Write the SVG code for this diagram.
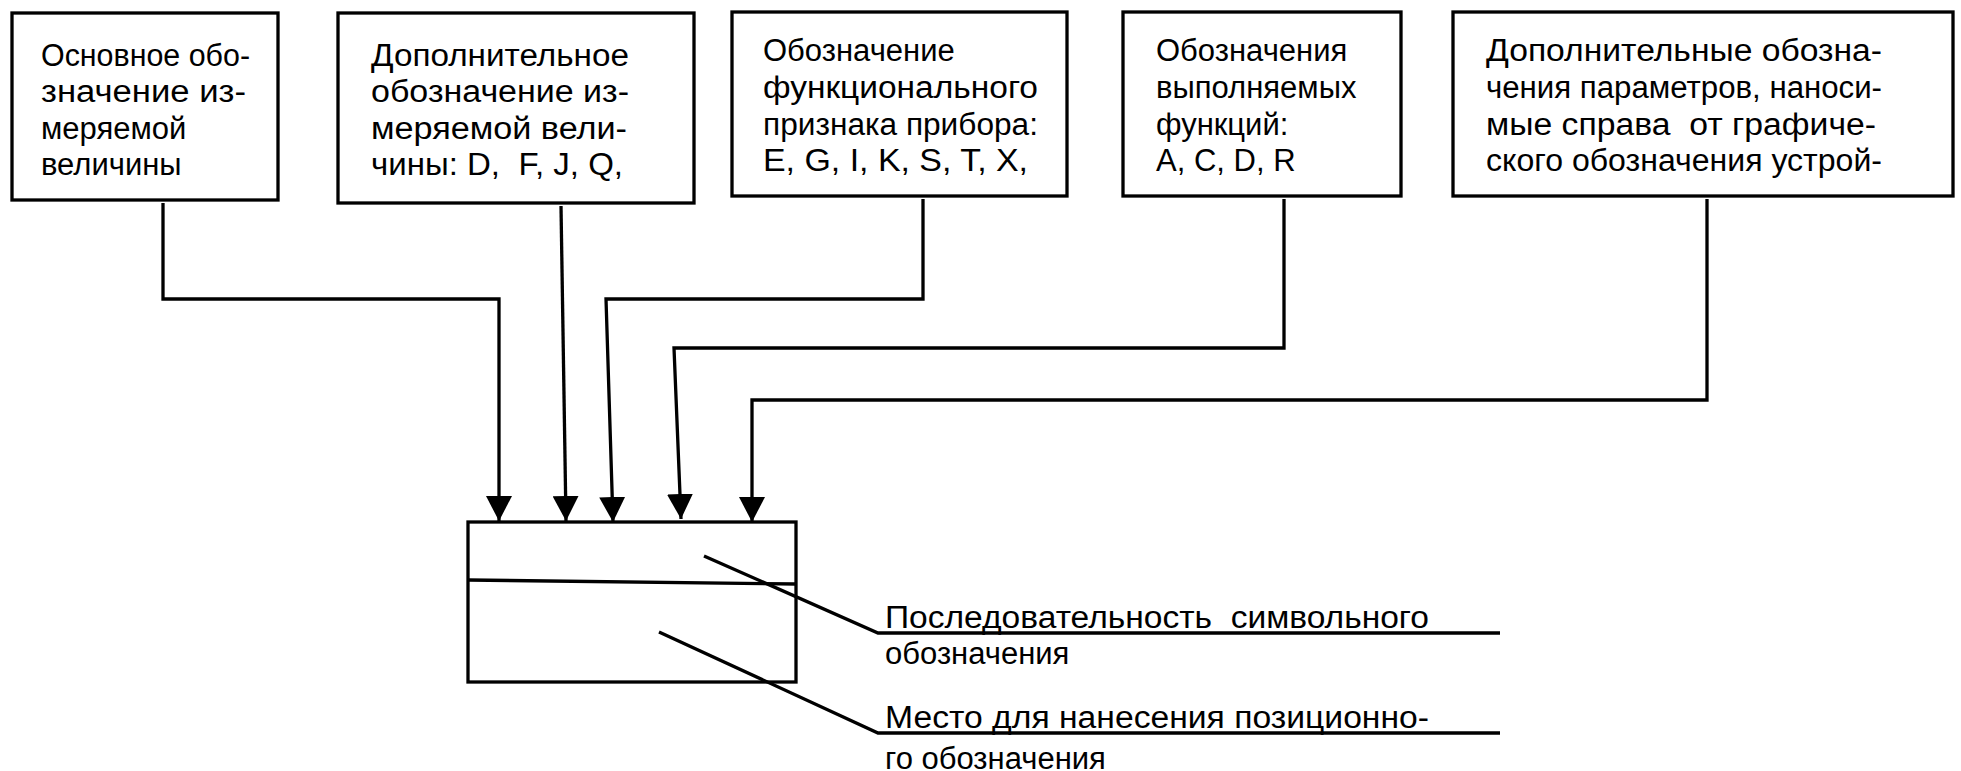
<svg xmlns="http://www.w3.org/2000/svg" width="1961" height="771" viewBox="0 0 1961 771">
<style>
.box{fill:#fff;stroke:#000;stroke-width:3.3}
.ln{fill:none;stroke:#000;stroke-width:3.3;stroke-linejoin:miter}
text{font-family:"Liberation Sans",Arial,sans-serif;font-size:31px;fill:#000}
</style>
<defs>
<marker id="arr" viewBox="0 -13 25 26" refX="25" refY="0" markerWidth="25" markerHeight="26" markerUnits="userSpaceOnUse" orient="auto">
<path d="M0,-13 L25,0 L0,13 z" fill="#000"/>
</marker>
</defs>
<rect width="1961" height="771" fill="#fff"/>
<g id="n1">
<rect class="box" x="12" y="13" width="266" height="187"/>
<text x="41" y="66" textLength="209" lengthAdjust="spacingAndGlyphs">Основное обо-</text>
<text x="41" y="102" textLength="205" lengthAdjust="spacingAndGlyphs">значение из-</text>
<text x="41" y="139">меряемой</text>
<text x="41" y="175">величины</text>
</g>
<g id="n2">
<rect class="box" x="338" y="13" width="356" height="190"/>
<text x="371" y="66" textLength="258" lengthAdjust="spacingAndGlyphs">Дополнительное</text>
<text x="371" y="102" textLength="258" lengthAdjust="spacingAndGlyphs">обозначение из-</text>
<text x="371" y="139" textLength="256" lengthAdjust="spacingAndGlyphs">меряемой вели-</text>
<text x="371" y="175" textLength="252" lengthAdjust="spacingAndGlyphs">чины: D, &#160;F, J, Q,</text>
</g>
<g id="n3">
<rect class="box" x="732" y="12" width="335" height="184"/>
<text x="763" y="61">Обозначение</text>
<text x="763" y="98" textLength="275" lengthAdjust="spacingAndGlyphs">функционального</text>
<text x="763" y="135" textLength="275" lengthAdjust="spacingAndGlyphs">признака прибора:</text>
<text x="763" y="171" textLength="265" lengthAdjust="spacingAndGlyphs">E, G, I, K, S, T, X,</text>
</g>
<g id="n4">
<rect class="box" x="1123" y="12" width="278" height="184"/>
<text x="1156" y="61">Обозначения</text>
<text x="1156" y="98">выполняемых</text>
<text x="1156" y="135">функций:</text>
<text x="1156" y="171">A, C, D, R</text>
</g>
<g id="n5">
<rect class="box" x="1453" y="12" width="500" height="184"/>
<text x="1486" y="61" textLength="396" lengthAdjust="spacingAndGlyphs">Дополнительные обозна-</text>
<text x="1486" y="98" textLength="396" lengthAdjust="spacingAndGlyphs">чения параметров, наноси-</text>
<text x="1486" y="135" textLength="390" lengthAdjust="spacingAndGlyphs">мые справа &#160;от графиче-</text>
<text x="1486" y="171" textLength="396" lengthAdjust="spacingAndGlyphs">ского обозначения устрой-</text>
</g>
<g id="device">
<rect class="box" x="468" y="522" width="328" height="160"/>
<path class="ln" d="M468,580 L796,584"/>
</g>
<g id="connectors">
<path class="ln" d="M163,203 V299 H499 V521" marker-end="url(#arr)"/>
<path class="ln" d="M561,206 L566,521" marker-end="url(#arr)"/>
<path class="ln" d="M923,199 V299 H606 L613,522" marker-end="url(#arr)"/>
<path class="ln" d="M1284,199 V348 H674 L681,519" marker-end="url(#arr)"/>
<path class="ln" d="M1707,199 V400 H752 V522" marker-end="url(#arr)"/>
<path class="ln" d="M704,556 L878,633 H1500"/>
<path class="ln" d="M659,632 L878,733 H1500"/>
</g>
<g id="labels">
<text x="885" y="628" textLength="544" lengthAdjust="spacingAndGlyphs">Последовательность &#160;символьного</text>
<text x="885" y="664">обозначения</text>
<text x="885" y="728" textLength="544" lengthAdjust="spacingAndGlyphs">Место для нанесения позиционно-</text>
<text x="885" y="769">го обозначения</text>
</g>
</svg>
